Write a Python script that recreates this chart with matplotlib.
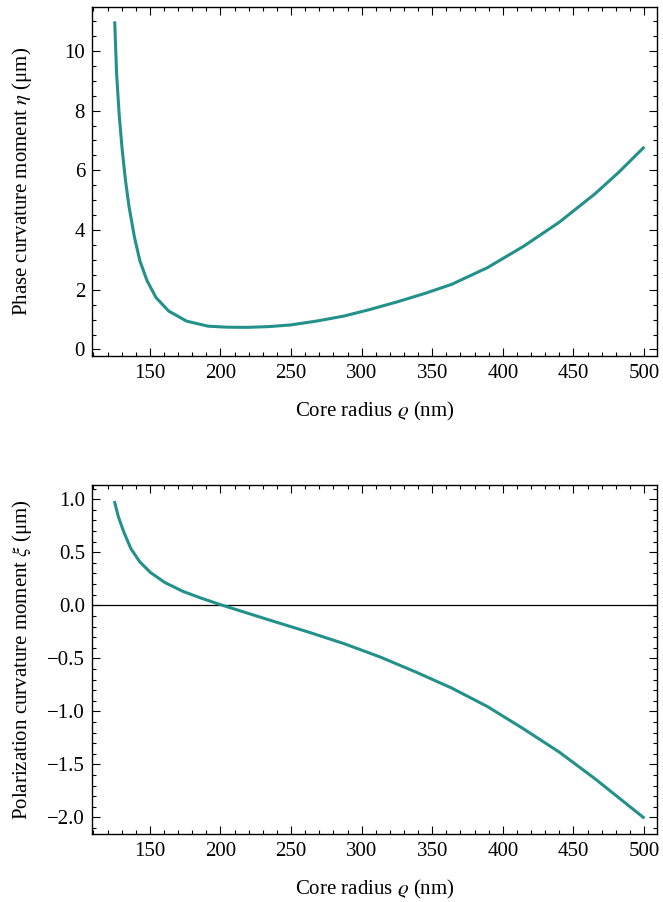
import matplotlib
matplotlib.use("Agg")
import matplotlib.pyplot as plt
from matplotlib.ticker import MultipleLocator, FuncFormatter

plt.rcParams['font.family'] = ['Liberation Serif', 'DejaVu Serif']
plt.rcParams['mathtext.fontset'] = 'stix'
plt.rcParams['font.size'] = 15

# values
radius_top = [125.1, 126.4, 128.2, 130.2, 132.7, 135.3, 139.1, 142.9, 148, 154.3, 163.2,
              175.9, 191.1, 205, 219, 234, 249.5, 268, 287.6, 306, 325.6, 345,
              363.7, 389.1, 414.5, 439.9, 465.2, 482, 499.5]
eta = [10.94, 9.24, 7.89, 6.77, 5.66, 4.76, 3.75, 2.97, 2.30, 1.74, 1.29,
       0.95, 0.78, 0.745, 0.74, 0.765, 0.82, 0.95, 1.12, 1.34, 1.60, 1.88,
       2.18, 2.74, 3.45, 4.26, 5.21, 5.93, 6.75]

radius_bot = [125.1, 127.7, 131.5, 136.5, 142.9, 150.5, 160.7, 173.3, 186, 200, 216.5,
              236.8, 262.2, 287.6, 313, 338.3, 363.7, 389.1, 414.5, 439.9, 465.2, 499.5]
xi = [0.969, 0.833, 0.692, 0.535, 0.409, 0.308, 0.214, 0.132, 0.069, 0.006, -0.063,
      -0.148, -0.252, -0.362, -0.487, -0.629, -0.78, -0.955, -1.164, -1.384, -1.635, -2.0]

teal = '#23918a'

fig = plt.figure(figsize=(6.63, 9.02), dpi=100)
ax1 = fig.add_axes([0.1388, 0.6053, 0.8517, 0.3869])
ax2 = fig.add_axes([0.1388, 0.0754, 0.8517, 0.3866])

for ax in (ax1, ax2):
    ax.tick_params(which='both', direction='in', top=True, right=True, width=0.8)
    ax.tick_params(which='major', length=5.5, labelsize=15)
    ax.tick_params(which='minor', length=3)
    ax.tick_params(axis='x', which='major', pad=6)
    ax.tick_params(axis='y', which='major', pad=5)
    ax.xaxis.set_major_locator(MultipleLocator(50))
    ax.xaxis.set_minor_locator(MultipleLocator(10))
    ax.set_xlim(109, 509)
    ax.set_xlabel(r'Core radius $\varrho$ (nm)', labelpad=12)
    for s in ax.spines.values():
        s.set_linewidth(1.0)

ax1.plot(radius_top, eta, color=teal, lw=2.2, solid_joinstyle='round')
ax1.set_ylim(-0.22, 11.47)
ax1.yaxis.set_major_locator(MultipleLocator(2))
ax1.yaxis.set_minor_locator(MultipleLocator(0.5))
ax1.set_ylabel(r'Phase curvature moment $\eta$ (μm)')
ax1.yaxis.set_label_coords(-0.103, 0.5)

ax2.axhline(0, color='black', lw=0.9)
ax2.plot(radius_bot, xi, color=teal, lw=2.2, solid_joinstyle='round')
ax2.set_ylim(-2.157, 1.132)
ax2.yaxis.set_major_locator(MultipleLocator(0.5))
ax2.yaxis.set_minor_locator(MultipleLocator(0.1))
ax2.yaxis.set_major_formatter(FuncFormatter(lambda v, p: f'{v:.1f}'.replace('-', '\u2212')))
ax2.set_ylabel(r'Polarization curvature moment $\xi$ (μm)')
ax2.yaxis.set_label_coords(-0.103, 0.5)

fig.savefig('out.png', dpi=100)
